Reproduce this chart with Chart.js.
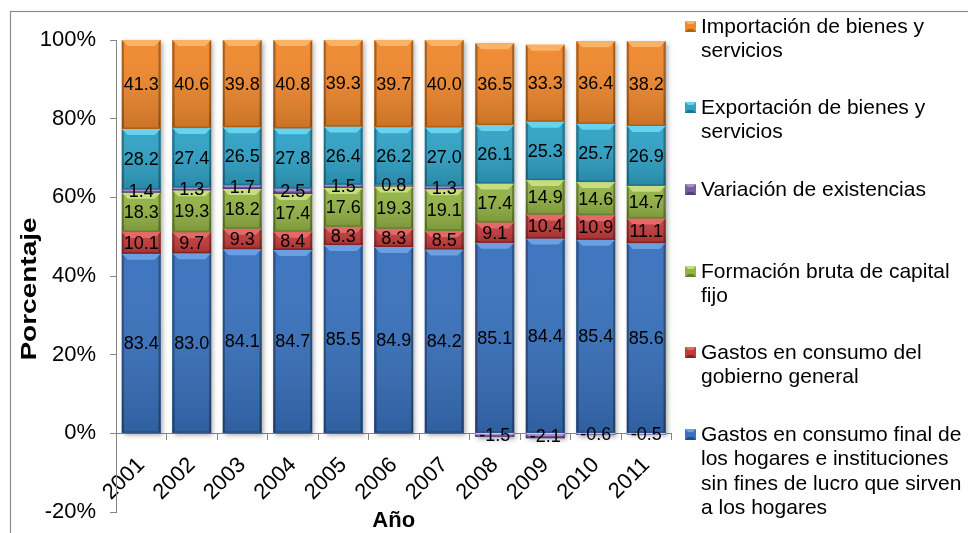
<!DOCTYPE html>
<html>
<head>
<meta charset="utf-8">
<script src="https://cdn.jsdelivr.net/npm/chart.js@4/dist/chart.umd.min.js"></script>
<style>
  html, body { margin: 0; padding: 0; background: #fff; }
  #wrap { position: relative; width: 968px; height: 533px; }
</style>
</head>
<body>
<div id="wrap"><canvas id="c" width="968" height="533"></canvas></div>
<script>
// Años
const years = ['2001', '2002', '2003', '2004', '2005', '2006', '2007', '2008', '2009', '2010', '2011'];

// Componentes del gasto (porcentaje del PIB)
const hogares     = [83.4, 83.0, 84.1, 84.7, 85.5, 84.9, 84.2, 85.1, 84.4, 85.4, 85.6];
const gobierno    = [10.1, 9.7, 9.3, 8.4, 8.3, 8.3, 8.5, 9.1, 10.4, 10.9, 11.1];
const formacion   = [18.3, 19.3, 18.2, 17.4, 17.6, 19.3, 19.1, 17.4, 14.9, 14.6, 14.7];
const variacion   = [1.4, 1.3, 1.7, 2.5, 1.5, 0.8, 1.3, -1.5, -2.1, -0.6, -0.5];
const exportacion = [28.2, 27.4, 26.5, 27.8, 26.4, 26.2, 27.0, 26.1, 25.3, 25.7, 26.9];
const importacion = [41.3, 40.6, 39.8, 40.8, 39.3, 39.7, 40.0, 36.5, 33.3, 36.4, 38.2];

// Nombres de las series (líneas de la leyenda)
const nombreHogares     = ['Gastos en consumo final de', 'los hogares e instituciones', 'sin fines de lucro que sirven', 'a los hogares'];
const nombreGobierno    = ['Gastos en consumo del', 'gobierno general'];
const nombreFormacion   = ['Formación bruta de capital', 'fijo'];
const nombreVariacion   = ['Variación de existencias'];
const nombreExportacion = ['Exportación de bienes y', 'servicios'];
const nombreImportacion = ['Importación de bienes y', 'servicios'];

// Ticks del eje Y
const yTicks = [-20, 0, 20, 40, 60, 80, 100];

const FONT = '"Liberation Sans", Arial, sans-serif';

// Orden de apilado (de abajo hacia arriba) con su paleta
const series = [
  { values: hogares,     lines: nombreHogares,     base: '#3871BD', light: '#6A9FE2', dark: '#234C85' },
  { values: gobierno,    lines: nombreGobierno,    base: '#C13A3A', light: '#E46A6A', dark: '#872222' },
  { values: formacion,   lines: nombreFormacion,   base: '#93B345', light: '#C6DE7E', dark: '#66822A' },
  { values: variacion,   lines: nombreVariacion,   base: '#7A5CA2', light: '#A98ECC', dark: '#533C78' },
  { values: exportacion, lines: nombreExportacion, base: '#2FA2C6', light: '#69D3EF', dark: '#1B7391' },
  { values: importacion, lines: nombreImportacion, base: '#F0882D', light: '#FAB264', dark: '#B45E10' }
];

// Barras al 100 %: cada componente sobre la suma de valores absolutos del año
const totals = years.map((_, i) => series.reduce((s, d) => s + Math.abs(d.values[i]), 0));

const datasets = series.map(s => ({
  label: s.lines.join(' '),
  data: s.values.map((v, i) => v / totals[i] * 100),
  rawValues: s.values,
  backgroundColor: s.base,
  borderWidth: 0,
  barPercentage: 0.77,
  categoryPercentage: 1.0,
  shade: s
}));

function barRect(el) {
  const p = el.getProps(['x', 'y', 'base', 'width'], true);
  const top = Math.min(p.y, p.base), bot = Math.max(p.y, p.base);
  return { left: p.x - p.width / 2, right: p.x + p.width / 2, top, bot, x: p.x };
}

// Fondo, marco y sombra de las columnas
const framePlugin = {
  id: 'frame',
  beforeDraw(chart) {
    const ctx = chart.ctx;
    ctx.save();
    ctx.fillStyle = '#fff';
    ctx.fillRect(0, 0, chart.width, chart.height);
    ctx.strokeStyle = '#8C8C8C';
    ctx.lineWidth = 1.2;
    ctx.strokeRect(10.5, 11.5, 2000, 2000);
    ctx.restore();
  },
  beforeDatasetsDraw(chart) {
    const ctx = chart.ctx;
    ctx.save();
    years.forEach((_, i) => {
      let top = Infinity, bot = -Infinity, left = 0, right = 0;
      chart.data.datasets.forEach((ds, di) => {
        const el = chart.getDatasetMeta(di).data[i];
        const r = barRect(el);
        top = Math.min(top, r.top); bot = Math.max(bot, r.bot);
        left = r.left; right = r.right;
      });
      ctx.shadowColor = 'rgba(0,0,0,0.35)';
      ctx.shadowBlur = 5;
      ctx.shadowOffsetX = 2;
      ctx.shadowOffsetY = 2;
      ctx.fillStyle = '#ffffff';
      ctx.fillRect(left, top, right - left, bot - top);
    });
    ctx.restore();
  }
};

// Relieve biselado y etiquetas de valor
const bevelPlugin = {
  id: 'bevel',
  afterDatasetsDraw(chart) {
    const ctx = chart.ctx;
    ctx.save();
    chart.data.datasets.forEach((ds, di) => {
      const meta = chart.getDatasetMeta(di);
      const sh = ds.shade;
      meta.data.forEach(el => {
        const r = barRect(el);
        const h = r.bot - r.top;
        if (h <= 0) return;
        const w = r.right - r.left;
        // bordes laterales más oscuros
        let g = ctx.createLinearGradient(r.left, 0, r.right, 0);
        g.addColorStop(0, sh.dark);
        g.addColorStop(0.07, 'rgba(0,0,0,0)');
        g.addColorStop(0.93, 'rgba(0,0,0,0)');
        g.addColorStop(1, sh.dark);
        ctx.fillStyle = g;
        ctx.fillRect(r.left, r.top, w, h);
        // ligero degradado vertical
        let gv = ctx.createLinearGradient(0, r.top, 0, r.bot);
        gv.addColorStop(0, 'rgba(255,255,255,0.04)');
        gv.addColorStop(1, 'rgba(0,0,0,0.16)');
        ctx.fillStyle = gv;
        ctx.fillRect(r.left, r.top, w, h);
        // bisel superior
        const bh = Math.min(6, h / 2);
        ctx.beginPath();
        ctx.moveTo(r.left, r.top);
        ctx.lineTo(r.right, r.top);
        ctx.lineTo(r.right - bh, r.top + bh);
        ctx.lineTo(r.left + bh, r.top + bh);
        ctx.closePath();
        ctx.fillStyle = sh.light;
        ctx.fill();
        // borde inferior
        ctx.fillStyle = sh.dark;
        ctx.fillRect(r.left, r.bot - Math.min(1.5, h / 3), w, Math.min(1.5, h / 3));
      });
    });
    // etiquetas
    ctx.fillStyle = '#000';
    ctx.font = '18px ' + FONT;
    ctx.textAlign = 'center';
    ctx.textBaseline = 'middle';
    chart.data.datasets.forEach((ds, di) => {
      const meta = chart.getDatasetMeta(di);
      meta.data.forEach((el, i) => {
        const r = barRect(el);
        ctx.fillText(ds.rawValues[i].toFixed(1), r.x, (r.top + r.bot) / 2 + 1);
      });
    });
    ctx.restore();
  }
};

// Títulos de ejes y leyenda
const textPlugin = {
  id: 'texts',
  afterDraw(chart) {
    const ctx = chart.ctx;
    const ca = chart.chartArea;
    ctx.save();
    ctx.fillStyle = '#000';
    ctx.font = 'bold 22px ' + FONT;
    ctx.textAlign = 'center';
    ctx.textBaseline = 'middle';
    ctx.fillText('Año', (ca.left + ca.right) / 2, 521);
    ctx.save();
    ctx.translate(30, 289);
    ctx.rotate(-Math.PI / 2);
    ctx.scale(1, 0.8);
    ctx.font = 'bold 28px ' + FONT;
    ctx.fillText('Porcentaje', 0, 0);
    ctx.restore();

    // leyenda (orden inverso al apilado)
    const entryY = [27, 108, 190, 272, 353, 435];
    const lineH = 24.5;
    const legendSeries = series.slice().reverse();
    ctx.font = '21px ' + FONT;
    ctx.textAlign = 'left';
    legendSeries.forEach((s, k) => {
      const y0 = entryY[k];
      const sx = 685, sy = y0 - 6, sz = 11;
      ctx.fillStyle = s.base;
      ctx.fillRect(sx, sy, sz, sz);
      ctx.beginPath();
      ctx.moveTo(sx, sy); ctx.lineTo(sx + sz, sy);
      ctx.lineTo(sx + sz - 3, sy + 3); ctx.lineTo(sx + 3, sy + 3);
      ctx.closePath();
      ctx.fillStyle = s.light; ctx.fill();
      ctx.beginPath();
      ctx.moveTo(sx, sy + sz); ctx.lineTo(sx + sz, sy + sz);
      ctx.lineTo(sx + sz - 3, sy + sz - 3); ctx.lineTo(sx + 3, sy + sz - 3);
      ctx.closePath();
      ctx.fillStyle = s.dark; ctx.fill();
      ctx.fillStyle = '#000';
      s.lines.forEach((t, li) => ctx.fillText(t, 701, y0 + li * lineH));
    });
    ctx.restore();
  }
};

new Chart(document.getElementById('c'), {
  type: 'bar',
  data: { labels: years, datasets },
  options: {
    responsive: false,
    devicePixelRatio: 1,
    animation: false,
    layout: { padding: { left: 0, top: 40, right: 296.5, bottom: 21 } },
    plugins: { legend: { display: false }, tooltip: { enabled: false } },
    scales: {
      x: {
        type: 'category',
        stacked: true,
        position: { y: 0 },
        offset: true,
        grid: { offset: true, drawOnChartArea: false, drawTicks: true, tickLength: 6, color: '#868686' },
        border: { display: true, color: '#868686', width: 1 },
        ticks: {
          color: '#000',
          font: { family: FONT, size: 22 },
          minRotation: 45, maxRotation: 45,
          autoSkip: false,
          padding: 13
        }
      },
      y: {
        stacked: true,
        min: yTicks[0],
        max: yTicks[yTicks.length - 1],
        afterBuildTicks(scale) { scale.ticks = yTicks.map(v => ({ value: v })); },
        afterFit(scale) {
          scale.width = 116;
          scale.paddingTop = 0;
          scale.paddingBottom = 0;
        },
        grid: { drawOnChartArea: false, drawTicks: true, tickLength: 6, color: '#868686' },
        border: { display: true, color: '#868686', width: 1 },
        ticks: {
          color: '#000',
          font: { family: FONT, size: 22 },
          padding: 14,
          callback: v => v + '%'
        }
      }
    }
  },
  plugins: [framePlugin, bevelPlugin, textPlugin]
});
</script>
</body>
</html>
